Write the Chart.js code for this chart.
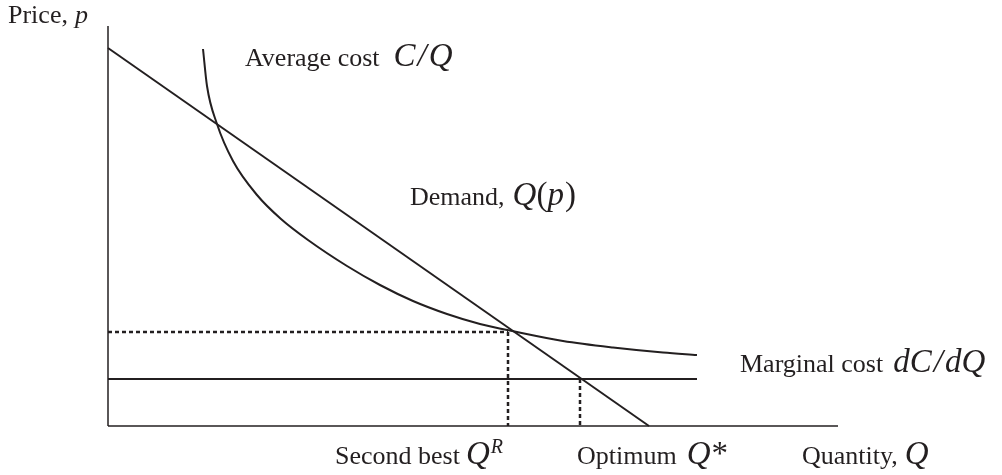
<!DOCTYPE html>
<html>
<head>
<meta charset="utf-8">
<script src="https://cdn.jsdelivr.net/npm/chart.js@4.4.1/dist/chart.umd.min.js"></script>
<style>
  html, body { margin: 0; padding: 0; background: #fff; }
  #wrap { width: 1002px; height: 475px; }
</style>
</head>
<body>
<div id="wrap"><canvas id="stage" width="1002" height="475"></canvas></div>
<script>
// demand line (quantity, price)
const demandQ = [0, 541];
const demandP = [378, 0];

// average cost curve
const acQ = [95, 99, 109, 125, 149, 173, 200, 239, 272, 305, 339, 372, 409, 455, 505, 555, 589];
const acP = [377, 340, 302, 265, 231, 207, 186, 160, 141, 125, 112, 102, 94, 85, 78.5, 73.5, 71];

// marginal cost (flat)
const mcQ = [0, 589];
const mcP = [47, 47];

// second best and optimum
const qR = 400, pR = 94;
const qStar = 472, pStar = 47;

const xMax = 730, yMax = 400;
const ink = '#231f20';

const toPts = (xs, ys) => xs.map((x, i) => ({x: x, y: ys[i]}));

// text pieces: [text, font, gap after]
const labels = [
  {x: -100, y: 403, parts: [['Price,', 'n', 7], ['p', 'i', 0]]},
  {x: 137, y: 360, parts: [['Average cost', 'n', 14], ['C', 'm', 2], ['/', 'm', 2], ['Q', 'm', 0]]},
  {x: 302, y: 221, parts: [['Demand,', 'n', 8], ['Q', 'm', 0], ['(', 'm0', 0], ['p', 'm', 1], [')', 'm0', 0]]},
  {x: 632, y: 54, parts: [['Marginal cost', 'n', 10], ['dC', 'm', 2], ['/', 'm', 2], ['dQ', 'm', 0]]},
  {x: 227, y: -38, parts: [['Second best', 'n', 6], ['Q', 'm', 1], ['R', 's', 0]]},
  {x: 469, y: -38, parts: [['Optimum', 'n', 10], ['Q', 'm', 1], ['*', 'm0', 0]]},
  {x: 694, y: -38, parts: [['Quantity,', 'n', 7], ['Q', 'm', 0]]}
];

const fonts = {
  n: '26px "Liberation Serif"',
  i: 'italic 26px "Liberation Serif"',
  m: 'italic 33px "Liberation Serif"',
  m0: '33px "Liberation Serif"',
  s: 'italic 20px "Liberation Serif"'
};

const textPlugin = {
  id: 'texts',
  afterDraw(chart) {
    const ctx = chart.ctx;
    const xs = chart.scales.x, ys = chart.scales.y;
    ctx.save();
    ctx.fillStyle = ink;
    ctx.textBaseline = 'alphabetic';
    labels.forEach(l => {
      let px = xs.getPixelForValue(l.x);
      const py = ys.getPixelForValue(l.y);
      l.parts.forEach(p => {
        ctx.font = fonts[p[1]];
        const dy = p[1] === 's' ? -11 : 0;
        ctx.fillText(p[0], px, py + dy);
        px += ctx.measureText(p[0]).width + p[2];
      });
    });
    ctx.restore();
  }
};

const solid = (data, w) => ({
  data: data, borderColor: ink, borderWidth: w, pointRadius: 0,
  fill: false, showLine: true, clip: false
});
const dotted = (data) => ({
  data: data, borderColor: ink, borderWidth: 2.5, borderDash: [4, 3],
  pointRadius: 0, fill: false, showLine: true, clip: false
});

const acSet = solid(toPts(acQ, acP), 2);
acSet.cubicInterpolationMode = 'monotone';

new Chart(document.getElementById('stage'), {
  type: 'scatter',
  data: {
    datasets: [
      solid([{x: 0, y: 0}, {x: 0, y: yMax}], 1.5),
      solid([{x: 0, y: 0}, {x: xMax, y: 0}], 1.5),
      solid(toPts(demandQ, demandP), 2),
      acSet,
      solid(toPts(mcQ, mcP), 2),
      dotted([{x: 0, y: pR}, {x: qR, y: pR}]),
      dotted([{x: qR, y: pR}, {x: qR, y: 0}]),
      dotted([{x: qStar, y: pStar}, {x: qStar, y: 0}])
    ]
  },
  options: {
    responsive: false,
    animation: false,
    layout: {padding: {left: 108, right: 164, top: 26, bottom: 49}},
    plugins: {legend: {display: false}, tooltip: {enabled: false}},
    scales: {
      x: {type: 'linear', min: 0, max: xMax, display: false},
      y: {type: 'linear', min: 0, max: yMax, display: false}
    }
  },
  plugins: [textPlugin]
});
</script>
</body>
</html>
